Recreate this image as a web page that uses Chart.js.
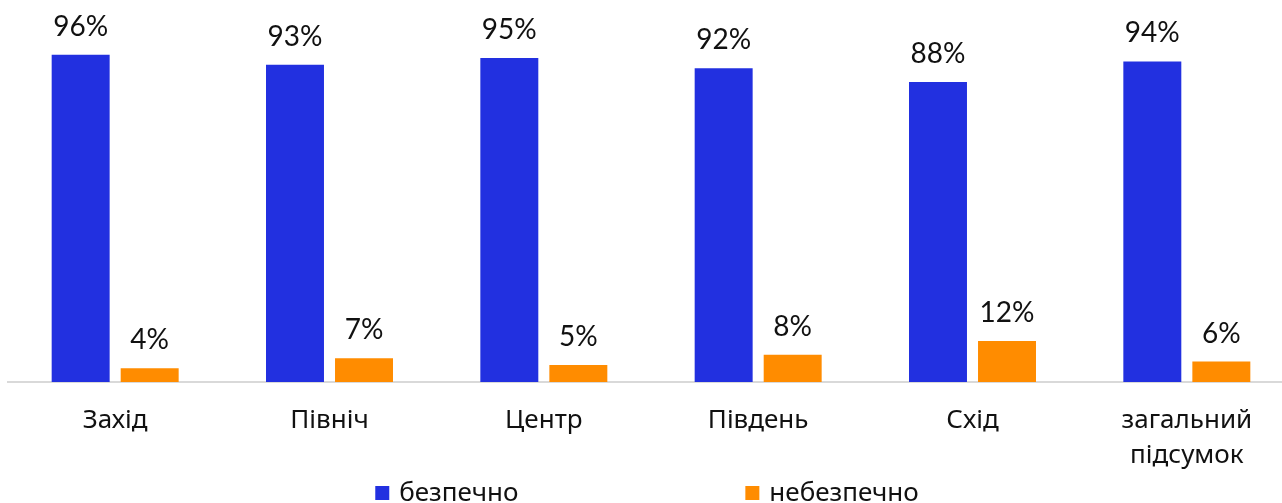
<!DOCTYPE html>
<html>
<head>
<meta charset="utf-8">
<script src="https://cdn.jsdelivr.net/npm/chart.js@4.4.1/dist/chart.umd.min.js"></script>
<style>
  html, body { margin: 0; padding: 0; overflow: hidden; background: #ffffff; }
  canvas { display: block; }
</style>
</head>
<body>
<canvas id="chart" width="1294" height="503"></canvas>
<script>
// Regions and the share of answers per region
const regions = ['Захід', 'Північ', 'Центр', 'Південь', 'Схід', ['загальний', 'підсумок']];
const safeShare = [96, 93, 95, 92, 88, 94];
const unsafeShare = [4, 7, 5, 8, 12, 6];
const seriesNames = ['безпечно', 'небезпечно'];
const seriesColors = ['#2230E0', '#FF8C00'];
const valueSuffix = '%';

const textColor = '#111111';

// Value labels above each bar
const valueLabels = {
  id: 'valueLabels',
  afterDatasetsDraw(chart) {
    const ctx = chart.ctx;
    ctx.save();
    ctx.font = '28px Lato, "Open Sans", sans-serif';
    ctx.fillStyle = textColor;
    ctx.textAlign = 'center';
    ctx.textBaseline = 'alphabetic';
    chart.data.datasets.forEach((ds, i) => {
      chart.getDatasetMeta(i).data.forEach((bar, j) => {
        ctx.fillText(ds.data[j] + valueSuffix, bar.x, bar.y - 19);
      });
    });
    ctx.restore();
  }
};

// Legend row along the bottom edge, items spread wide apart
const bottomLegend = {
  id: 'bottomLegend',
  afterDraw(chart) {
    const ctx = chart.ctx;
    ctx.save();
    ctx.font = '26px "Noto Sans", sans-serif';
    ctx.textBaseline = 'alphabetic';
    ctx.textAlign = 'left';
    const box = 14, textGap = 10, itemGap = 227;
    const items = chart.data.datasets.map(ds => ({
      label: ds.label,
      color: ds.backgroundColor,
      w: ctx.measureText(ds.label).width
    }));
    const total = items.reduce((s, it) => s + box + textGap + it.w, 0) + itemGap * (items.length - 1);
    let x = chart.width / 2 - total / 2;
    const baseline = chart.height - 2;
    items.forEach(it => {
      ctx.fillStyle = it.color;
      ctx.fillRect(x, baseline - 15, box, box);
      ctx.fillStyle = textColor;
      ctx.fillText(it.label, x + box + textGap, baseline);
      x += box + textGap + it.w + itemGap;
    });
    ctx.restore();
  }
};

new Chart(document.getElementById('chart'), {
  type: 'bar',
  data: {
    labels: regions,
    datasets: [
      { label: seriesNames[0], data: safeShare, backgroundColor: seriesColors[0] },
      { label: seriesNames[1], data: unsafeShare, backgroundColor: seriesColors[1] }
    ]
  },
  options: {
    responsive: false,
    devicePixelRatio: 1,
    animation: false,
    events: [],
    layout: { padding: { top: 41, left: 8, right: 0, bottom: 0 } },
    datasets: {
      bar: { categoryPercentage: 0.644, barPercentage: 0.84 }
    },
    plugins: {
      legend: { display: false },
      tooltip: { enabled: false }
    },
    scales: {
      y: { display: false, min: 0, max: 100 },
      x: {
        grid: { display: false, drawTicks: false },
        border: { display: true, color: '#d9d9d9', width: 2 },
        ticks: {
          color: textColor,
          font: { family: '"Noto Sans", sans-serif', size: 26, lineHeight: 1.35 },
          padding: 21,
          maxRotation: 0,
          autoSkip: false
        },
        afterFit(scale) { scale.height = 121; }
      }
    }
  },
  plugins: [valueLabels, bottomLegend]
});
</script>
</body>
</html>
